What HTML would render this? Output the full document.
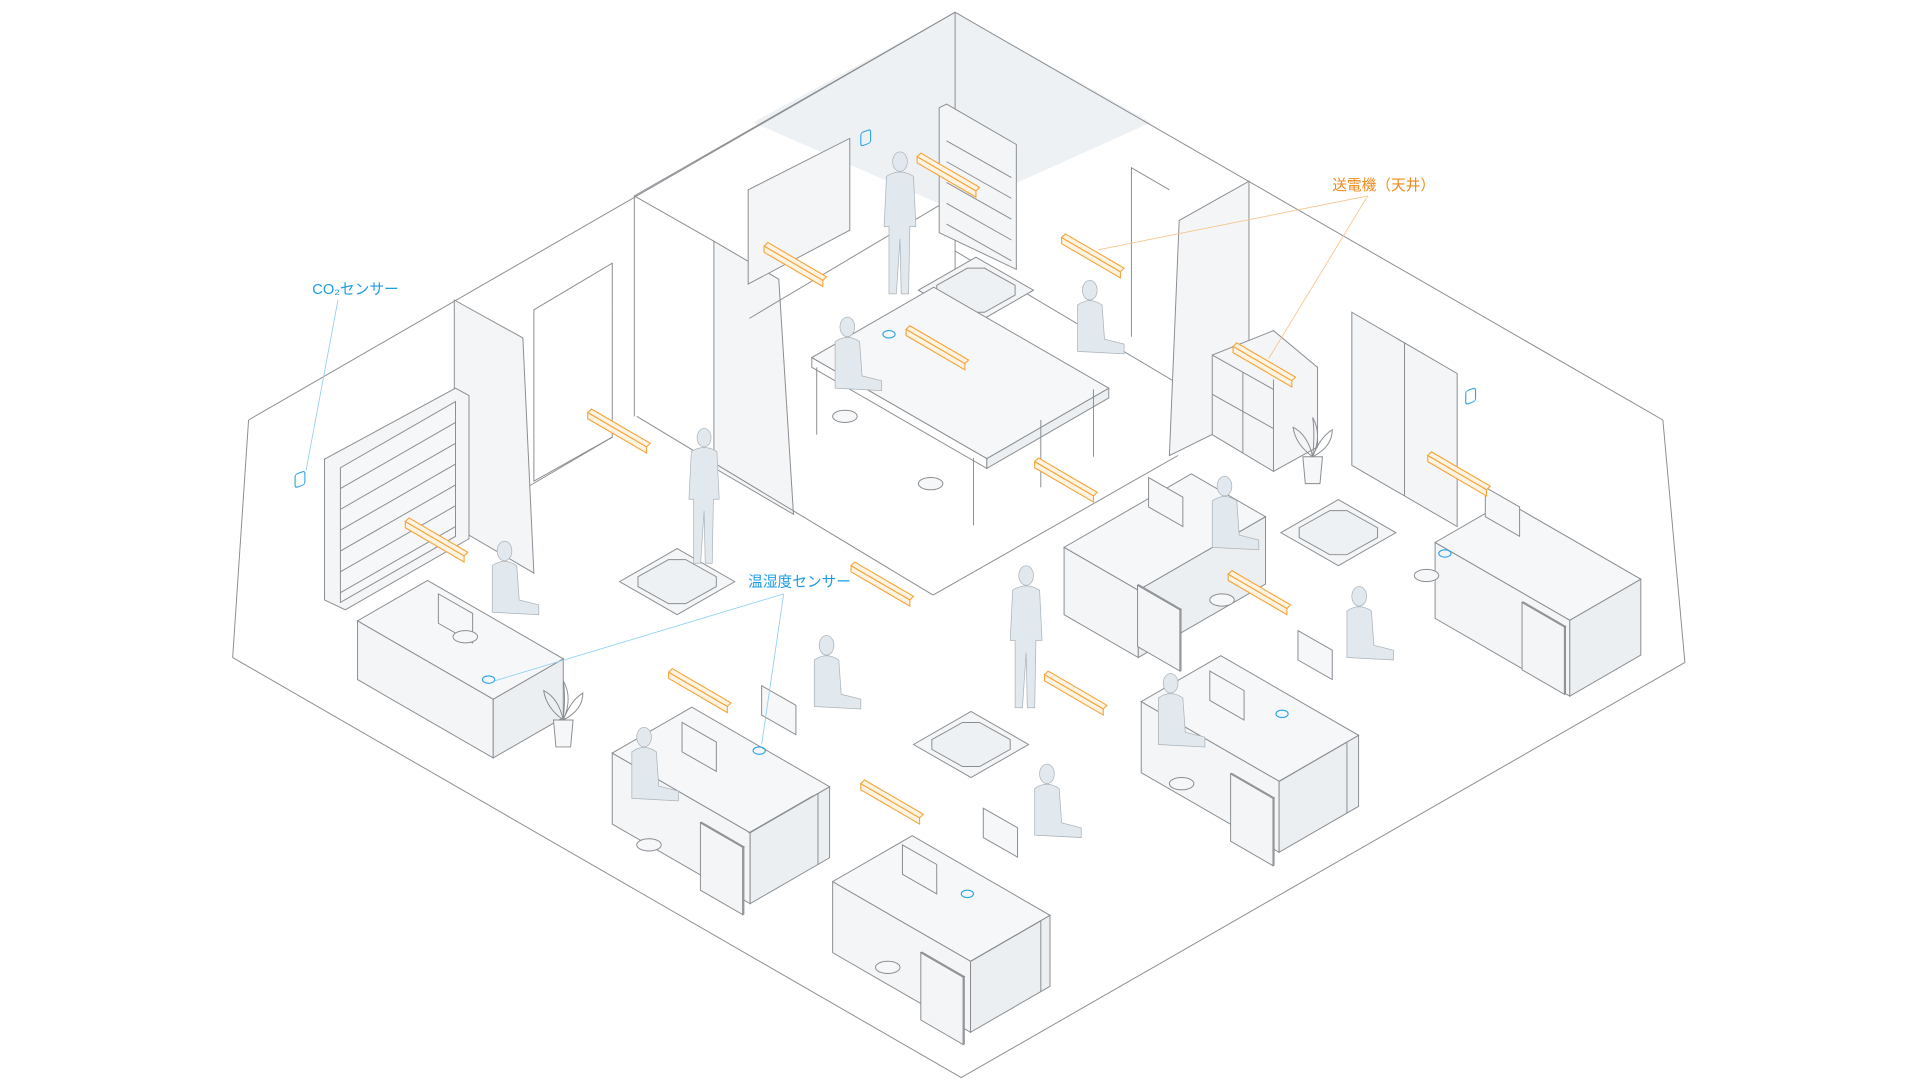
<!DOCTYPE html>
<html><head><meta charset="utf-8"><style>
html,body{margin:0;padding:0;background:#fff;width:1920px;height:1080px;overflow:hidden}
svg{display:block}
text{font-family:"Liberation Sans","Noto Sans CJK JP",sans-serif;font-size:12px}
</style></head><body>
<svg id="s" width="1920" height="1080" viewBox="0 0 1568 882" xmlns="http://www.w3.org/2000/svg">
<g fill="none" stroke="#8a8d90" stroke-width="0.8">
<!-- ceiling shade -->
<polygon points="615,100 780,10 940,100 780,172" fill="#eef1f4" stroke="none"/>
<!-- outer -->
<polyline points="203,343 780,10 1358,343"/>
<line x1="203" y1="343" x2="190" y2="537"/>
<line x1="1358" y1="343" x2="1376" y2="541"/>
<polyline points="190,537 785,880 1376,541"/>
<line x1="780" y1="10" x2="780" y2="220"/>
<!-- meeting room lines -->
<line x1="518" y1="160" x2="518" y2="340"/>
<line x1="518" y1="160" x2="780" y2="10"/>
<polyline points="518,160 583,197"/>
<polygon points="583,197 636,228 648,420 583,382" fill="#f3f5f7"/>
<line x1="520" y1="340" x2="762" y2="486"/>
<line x1="762" y1="486" x2="962" y2="372"/>
<line x1="432" y1="397" x2="500" y2="357"/>
<line x1="612" y1="260" x2="780" y2="160"/>
<line x1="780" y1="205" x2="990" y2="330"/>
<polygon points="963,180 1020,148 1020,340 955,372" fill="#f3f5f7"/>
<polygon points="436,253 500,215 500,357 436,393"/>
<polyline points="924,275 924,137 955,155"/>
<polygon points="1104,255 1190,305 1190,430 1104,380" fill="#f3f5f7"/>
<line x1="1147" y1="280" x2="1147" y2="405"/>
<!-- left wall panel -->
<polygon points="371,245 427,276 436,468 371,430" fill="#f3f5f7"/>
<!-- bookshelf left -->
<polygon points="265,375 372,317 383,323 383,440 282,498 265,490" fill="#f3f5f7"/>
<polygon points="278,382 372,328 372,438 278,492" fill="#f6f7f9"/>
<g id="shelves"></g>
<!-- whiteboard -->
<polygon points="611,155 694,113 694,188 611,232" fill="#f3f5f7"/>
<!-- tall bookshelf -->
<polygon points="767,88 773,85 830,118 830,220 767,190" fill="#f3f5f7"/>
<!-- cube shelf -->
<polygon points="990,290 1040,270 1076,300 1076,365 1040,385 990,355" fill="#f3f5f7"/>
<line x1="1040" y1="310" x2="1040" y2="385"/><line x1="990" y1="290" x2="1040" y2="318"/>
<line x1="990" y1="322" x2="1040" y2="350"/><line x1="1015" y1="304" x2="1015" y2="370"/>
<!-- mats -->
<g id="mats"></g>
<g id="boxes"></g>
</g>
<g id="people" fill="#e2e9ee" stroke="#a9b3ba" stroke-width="0.6"></g>
<g id="bars" fill="#fff3e2" stroke="#f5a43a" stroke-width="0.9"></g>
<g id="sens" fill="none" stroke="#2aa3e6" stroke-width="0.9"></g>
<!-- leaders -->
<g stroke="#f7c48a" stroke-width="0.7" fill="none">
<line x1="1117" y1="160" x2="897" y2="204"/>
<line x1="1117" y1="160" x2="1036" y2="293"/>
</g>
<g stroke="#8fd0f3" stroke-width="0.7" fill="none">
<line x1="276" y1="245" x2="250" y2="384"/>
<line x1="640" y1="485" x2="404" y2="556"/>
<line x1="640" y1="485" x2="622" y2="608"/>
</g>
<text x="1088" y="155" fill="#ef8a1c">送電機（天井）</text>
<text x="255" y="240" fill="#1d9ce2">CO₂センサー</text>
<text x="611" y="479" fill="#1d9ce2">温湿度センサー</text>
</svg>
<script>
var NS="http://www.w3.org/2000/svg";
function el(p,t,a){var e=document.createElementNS(NS,t);for(var k in a)e.setAttribute(k,a[k]);document.getElementById(p).appendChild(e);return e;}
var c=0.866,s=0.5;
function pts(a){return a.map(function(p){return p[0].toFixed(1)+","+p[1].toFixed(1)}).join(" ");}
function box(px,py,a,b,h,fill){
 var L=[px,py],F=[px+a*c,py+a*s],R=[px+a*c+b*c,py+a*s-b*s],B=[px+b*c,py-b*s];
 el("boxes","polygon",{points:pts([L,F,[F[0],F[1]+h],[L[0],L[1]+h]]),fill:fill||"#f3f5f7"});
 el("boxes","polygon",{points:pts([F,R,[R[0],R[1]+h],[F[0],F[1]+h]]),fill:"#eceff2"});
 el("boxes","polygon",{points:pts([L,F,R,B]),fill:"#f6f7f9"});
}
// desks
box(292,507,128,66,48);
box(500,615,130,75,58);box(612,680,0.1,60,0);
box(612,615,0,0,0);
box(500,615,0,0,0);
box(680,720,130,75,58);
box(932,573,130,75,58);
box(869,447,70,120,55);
box(1172,443,127,67,62);
// drawers
box(572,672,40,1,55,"#f3f5f7");box(752,778,40,1,55);box(1005,632,40,1,55);box(929,478,40,1,50);box(1243,492,40,1,55);
// second halves lines
[[612,680,668,648],[793,785,850,752],[1045,638,1100,606]].forEach(function(l){el("boxes","line",{x1:l[0],y1:l[1],x2:l[2],y2:l[3]});el("boxes","line",{x1:l[2],y1:l[3],x2:l[2],y2:l[3]+58});});
// meeting table
box(663,292,165,115,8,"#fff");
[[667,300],[795,374],[893,318],[850,343]].forEach(function(p){el("boxes","line",{x1:p[0],y1:p[1],x2:p[0],y2:p[1]+55});});
// mats
[[553,475],[797,237],[1093,435],[793,608]].forEach(function(m){
 el("mats","polygon",{points:pts([[m[0]-47,m[1]],[m[0],m[1]-27],[m[0]+47,m[1]],[m[0],m[1]+27]]),fill:"#f3f5f7"});
 el("mats","polygon",{points:pts([[m[0]-32,m[1]-4],[m[0]-7,m[1]-18],[m[0]+7,m[1]-18],[m[0]+32,m[1]-4],[m[0]+32,m[1]+4],[m[0]+7,m[1]+18],[m[0]-7,m[1]+18],[m[0]-32,m[1]+4]]),fill:"#eef1f4"});
});
// shelves
for(var i=1;i<7;i++){var y=382+i*17;el("shelves","line",{x1:278,y1:y+0,x2:372,y2:y-54});}
for(var i=1;i<6;i++){var y=98+i*17;el("boxes","line",{x1:773,y1:y,x2:826,y2:y+30});}
// monitors
[[358,485],[557,590],[737,690],[988,548],[938,390],[1213,398],[622,560],[803,660],[1060,515]].forEach(function(m){
 el("boxes","polygon",{points:pts([[m[0],m[1]],[m[0]+28,m[1]+16],[m[0]+28,m[1]+40],[m[0],m[1]+24]]),fill:"#f6f7f9"});
});
// people
function person(x,y,sc,sit){
 var g=el("people","g",{transform:"translate("+x+","+y+") scale("+sc+")"});
 function a(t,o){var e=document.createElementNS(NS,t);for(var k in o)e.setAttribute(k,o[k]);g.appendChild(e);}
 a("ellipse",{cx:0,cy:-8,rx:6,ry:8});
 if(sit){a("path",{d:"M-10,4 Q0,-3 10,4 L12,32 L28,36 L28,44 L-10,42 Z"});}
 else{a("path",{d:"M-11,4 Q0,-3 11,4 L13,45 L8,45 L7,100 L1,100 L0,55 L-3,100 L-9,100 L-9,45 L-13,45 Z"});}
}
person(735,140,1,false);person(575,365,0.95,false);person(838,478,1,false);
[[692,275],[890,245],[412,458],[526,610],[675,535],[956,566],[1000,405],[1110,495],[855,640]].forEach(function(p){person(p[0],p[1],1,true);});
// chairs
[[380,520],[965,640],[530,690],[725,790],[998,490],[1165,470],[690,340],[760,395]].forEach(function(p){
 el("boxes","ellipse",{cx:p[0],cy:p[1],rx:10,ry:5,fill:"#f6f7f9"});
});
// plants
[[460,600],[1072,385]].forEach(function(p){
 el("boxes","polygon",{points:pts([[p[0]-8,p[1]-12],[p[0]+8,p[1]-12],[p[0]+6,p[1]+10],[p[0]-6,p[1]+10]]),fill:"#f6f7f9"});
 el("boxes","path",{d:"M"+p[0]+","+(p[1]-12)+" q-14,-10 -16,-24 q12,6 16,24 q2,-20 0,-32 q8,14 0,32 q6,-16 16,-22 q0,14 -16,22"});
});
// transmitters
[[773,142],[648,215],[891,208],[764,283],[504,351],[1031,297],[355,440],[719,476],[869,391],[1190,386],[1027,483],[570,563],[877,565],[727,654]].forEach(function(b){
 el("bars","g",{});
 var p=[[b[0]-24,b[1]-14],[b[0]+24,b[1]+14],[b[0]+24,b[1]+19],[b[0]-24,b[1]-9]];
 var g=document.getElementById("bars");
 var e=document.createElementNS(NS,"polygon");e.setAttribute("points",pts([[b[0]-24,b[1]-14],[b[0]-21,b[1]-17],[b[0]+27,b[1]+11],[b[0]+24,b[1]+14]]));g.appendChild(e);
 e=document.createElementNS(NS,"polygon");e.setAttribute("points",pts(p));g.appendChild(e);
});
// sensors
[[707,113],[245,392],[1201,324]].forEach(function(p){el("sens","rect",{x:p[0]-4,y:p[1]-6,width:8,height:11,rx:2,transform:"skewY(-20) translate(0,"+(p[0]*0.364)+")"});});
[[726,273],[1180,452],[399,555],[620,613],[1047,583],[790,730]].forEach(function(p){el("sens","ellipse",{cx:p[0],cy:p[1],rx:5,ry:3});});
</script>
</body></html>
